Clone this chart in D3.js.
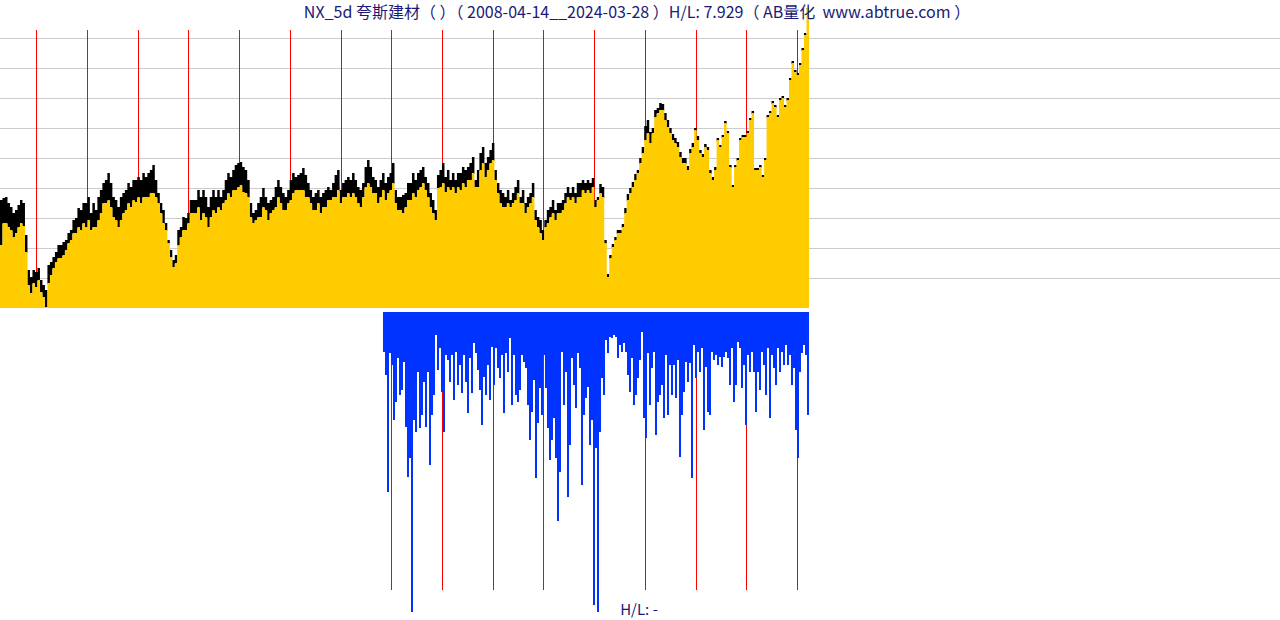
<!DOCTYPE html>
<html><head><meta charset="utf-8">
<script src="https://cdn.jsdelivr.net/npm/d3@7"></script>
<style>html,body{margin:0;padding:0;background:#fff;overflow:hidden}</style>
</head><body>
<script>
// ---- data ----
const titleText = "NX_5d 夸斯建材（ ）（ 2008-04-14__2024-03-28 ）H/L: 7.929（ AB量化  www.abtrue.com ）";
const footText = "H/L: -";
const startDate = "2008-04-14";
const endDate = "2024-03-28";
const bottomStartDate = "2015-11-03";
const gridTicks = [3, 6, 9, 12, 15, 18, 21, 24, 27];

const close = [
6.3,8.5, 8.5,8.1, 7.8,7.1, 7.5,8.1, 8.5,8.2, 5.6,2.3, 1.5,2.5, 2.1,2.8, 1.6,1.1, 0.1,2.5,
3.3,4.0, 4.6,5.0, 5.0,5.3, 5.8,6.5, 6.8,7.5, 7.5,8.1, 7.8,8.5, 8.1,8.8, 7.8,8.1, 8.1,8.8,
9.5,10.5, 10.5,10.8, 10.1,9.1, 8.8,8.1, 8.8,9.5, 9.8,10.5, 10.1,10.8, 10.6,11.1, 10.5,11.1, 11.1,11.1,
11.5,11.5, 11.1,10.5, 9.5,8.5, 7.8,6.5, 5.1,4.1, 4.5,6.3, 7.1,7.8, 7.8,8.5, 9.5,9.5, 9.5,10.1,
8.8,9.5, 9.1,8.1, 9.1,9.8, 9.5,10.1, 9.8,10.5, 10.8,11.5, 11.1,11.8, 11.8,12.1, 12.3,11.6, 11.5,11.1,
9.1,8.5, 8.8,9.1, 9.1,10.1, 9.8,8.8, 9.5,9.8, 10.1,11.1, 10.5,9.8, 9.8,10.5, 10.8,11.5, 11.8,11.8,
11.8,11.8, 11.1,11.1, 10.5,9.8, 9.8,10.5, 9.5,10.1, 10.1,10.8, 10.8,11.1, 11.1,11.8, 10.5,11.1, 11.1,11.5,
11.1,11.5, 11.1,10.5, 10.1,11.1, 12.1,12.5, 12.1,11.5, 11.5,10.5, 11.1,11.8, 10.8,11.5, 11.8,12.5, 10.5,9.8,
9.8,9.5, 10.1,10.8, 10.8,11.5, 11.1,11.8, 12.1,12.5, 11.8,11.1, 10.1,9.5, 8.8,12.0, 12.1,12.5, 11.6,12.1,
11.8,12.1, 11.5,12.1, 11.8,12.5, 12.1,12.8, 12.8,13.5, 12.1,12.1, 13.8,14.5, 13.1,13.8, 14.5,14.8, 12.8,11.5,
10.5,10.1, 10.1,10.5, 10.1,10.5, 10.8,11.5, 10.5,10.5, 9.5,10.1, 10.5,11.1, 8.8,8.1, 7.5,6.8, 8.1,8.5,
9.1,9.5, 8.8,9.5, 9.5,9.8, 10.5,11.1, 10.8,11.1, 10.5,11.1, 11.1,11.8, 11.5,11.8, 11.5,12.1, 10.1,10.8,
11.5,11.1, 6.5,3.1, 5.0,6.1, 6.8,7.5, 7.5,8.1, 9.5,10.8, 11.5,12.1, 12.8,13.5, 14.5,15.5, 16.8,17.5,
16.5,17.5, 19.1,19.5, 19.8,19.8, 18.8,18.1, 17.5,16.8, 16.5,16.1, 15.1,14.5, 14.5,13.8, 15.5,16.1, 17.8,16.8,
15.5,15.1, 16.1,15.8, 13.5,12.8, 13.8,16.8, 16.1,17.1, 18.5,17.5, 14.1,12.1, 14.1,14.8, 16.8,17.1, 17.1,17.5,
18.8,19.5, 13.8,13.8, 14.1,13.1, 14.8,19.1, 19.5,20.5, 20.1,19.1, 20.8,21.0, 20.1,20.8, 22.8,24.5, 23.6,23.3,
24.3,25.8, 27.3,30.0
];

const high = [
10.8,11.0, 11.1,10.5, 10.1,9.5, 9.8,10.3, 10.8,10.5, 7.3,3.8, 3.1,3.8, 3.6,4.0, 2.8,2.3, 1.8,4.3,
4.6,5.1, 5.6,6.3, 6.3,6.6, 6.8,7.5, 7.8,8.8, 9.0,10.0, 9.8,10.5, 10.5,11.1, 9.5,10.5, 9.8,11.1,
11.8,12.5, 12.8,13.5, 12.5,11.1, 10.8,10.1, 11.1,11.5, 11.8,12.5, 12.1,12.8, 12.8,13.1, 12.8,13.5, 13.1,13.5,
13.8,14.3, 12.8,11.5, 10.5,9.8, 8.5,6.8, 5.8,4.8, 5.3,7.8, 8.1,9.1, 9.0,9.5, 10.8,10.8, 10.8,11.8,
11.1,11.8, 11.1,10.1, 11.1,11.8, 11.1,11.8, 11.1,11.8, 12.8,13.5, 13.1,13.8, 14.3,14.5, 14.6,14.1, 13.8,12.8,
10.5,9.5, 9.8,10.5, 11.1,12.0, 11.1,10.5, 10.8,11.1, 12.1,12.8, 12.1,11.5, 11.1,11.8, 12.8,13.5, 13.1,13.3,
13.5,14.0, 13.3,12.5, 11.8,11.1, 11.5,11.8, 11.1,11.5, 11.8,12.1, 11.8,12.5, 13.3,13.8, 11.8,12.5, 12.8,13.1,
12.8,13.5, 12.8,12.1, 11.8,12.5, 14.1,14.8, 14.1,13.1, 12.8,12.1, 12.8,13.5, 12.5,13.1, 13.5,14.5, 11.8,11.1,
11.1,11.3, 11.5,12.5, 12.5,13.5, 12.8,13.5, 13.8,14.1, 13.1,12.5, 11.5,10.8, 9.8,13.3, 13.8,14.5, 13.1,13.8,
12.8,13.5, 12.8,13.5, 13.5,14.1, 13.8,14.1, 14.5,15.1, 12.8,13.8, 15.5,16.1, 14.5,15.1, 15.8,16.5, 13.8,12.5,
11.8,11.5, 11.1,11.8, 10.8,11.5, 12.1,12.8, 11.1,11.8, 10.5,11.1, 11.5,12.5, 9.8,9.1, 8.8,7.8, 8.8,9.8,
10.1,10.8, 9.8,10.5, 10.5,10.8, 11.5,12.1, 11.5,12.1, 11.5,12.5, 12.5,12.8, 12.5,12.8, 12.5,13.0, 10.8,11.1,
12.4,12.1, 6.8,3.4, 5.3,6.4, 7.1,7.8, 7.8,8.4, 10.0,11.4, 12.0,12.6, 13.4,13.8, 15.0,16.1, 18.2,18.8,
17.6,18.0, 19.8,20.0, 20.5,20.4, 19.5,18.8, 18.0,17.4, 17.0,16.6, 15.6,15.0, 15.0,14.2, 15.9,16.5, 18.0,17.2,
15.8,15.4, 16.4,16.1, 13.8,13.1, 14.1,17.0, 16.3,17.3, 18.7,17.7, 14.3,12.3, 14.3,15.0, 17.0,17.3, 17.3,17.7,
19.0,19.7, 14.0,14.0, 14.3,13.3, 15.0,19.3, 19.7,20.7, 20.3,19.3, 21.0,21.2, 20.3,21.0, 23.0,24.7, 23.8,23.5,
24.5,26.0, 27.5,30.0
];

const depth = [
4.0,6.3,18.0,4.1,5.3,10.8,9.0,4.6,8.3,7.8,5.0,11.5,16.5,14.6,30.0,10.8,12.0,6.0,11.6,10.3,
7.0,11.5,6.0,15.3,10.3,8.3,2.3,5.8,3.6,8.0,12.0,4.3,4.8,7.0,4.3,8.8,4.0,7.3,5.3,8.1,
4.3,7.0,10.1,4.6,8.1,3.1,4.1,5.8,7.8,11.3,6.5,8.3,5.3,8.8,3.5,7.3,3.6,5.6,6.6,4.3,
10.1,4.1,6.0,2.6,9.3,4.3,8.3,9.0,7.8,4.3,5.0,5.6,9.3,12.8,10.0,6.8,16.6,11.1,7.6,10.3,
4.3,7.6,11.6,14.8,12.8,10.6,14.6,20.9,16.0,4.0,9.3,6.0,18.5,13.3,4.6,7.3,9.6,4.1,5.6,17.3,
10.3,8.6,7.5,13.3,10.8,29.3,13.6,30.0,12.0,6.6,8.3,2.8,4.1,2.5,2.6,2.3,2.5,4.6,3.3,4.0,
3.1,4.0,6.3,8.0,4.6,9.3,8.3,6.6,4.8,2.0,10.6,12.6,4.1,9.3,5.6,4.0,12.3,9.0,8.3,7.3,
10.6,4.3,10.3,5.3,8.3,5.3,8.6,4.8,14.5,10.3,8.0,5.0,7.0,5.1,16.6,3.3,6.6,4.0,6.0,3.6,
11.8,5.5,10.0,10.3,4.0,4.8,4.3,5.3,4.5,5.5,4.5,4.0,4.6,7.3,3.6,9.0,7.3,3.0,3.6,7.6,
5.3,11.3,4.3,6.0,4.0,6.0,10.0,6.0,7.8,4.0,5.3,8.3,3.6,10.6,4.3,5.6,7.3,3.6,6.0,4.0,
5.3,3.3,5.3,4.3,7.3,5.6,11.8,14.6,6.0,4.1,3.3,4.3,10.3
];

// ---- drawing ----
const W = 1280, H = 620;
const svg = d3.select("body").append("svg").attr("width", W).attr("height", H)
  .style("font-family", "'Noto Sans CJK SC','Noto Sans',sans-serif");

const t0 = new Date(startDate + "T00:00:00Z"), t1 = new Date(endDate + "T00:00:00Z");
const tb = new Date(bottomStartDate + "T00:00:00Z");
const x = d3.scaleUtc().domain([t0, t1]).range([0, 809]);
const yTop = d3.scaleLinear().domain([0, 30]).range([308, 8]);
const yBot = d3.scaleLinear().domain([0, 30]).range([312, 612]);

// grid lines
svg.append("g").selectAll("line").data(gridTicks).join("line")
  .attr("x1", 0).attr("x2", W)
  .attr("y1", d => Math.round(yTop(d)) + 0.5).attr("y2", d => Math.round(yTop(d)) + 0.5)
  .attr("stroke", "#cccccc").attr("stroke-width", 1);

const years = d3.utcYear.range(d3.utcYear.ceil(t0), t1);

// year lines top (behind area)
svg.append("g").selectAll("line").data(years).join("line")
  .attr("x1", d => Math.round(x(d)) + 0.5).attr("x2", d => Math.round(x(d)) + 0.5)
  .attr("y1", 30).attr("y2", 308)
  .attr("stroke", "#ff0000").attr("stroke-width", 1);

// top series
const n = close.length;
const pts = close.map((c, i) => ({ t: new Date(+t0 + (t1 - t0) * i / n), c, h: high[i] }));
pts.push({ t: t1, c: close[n - 1], h: high[n - 1] });

svg.append("path").datum(pts)
  .attr("d", d3.area().curve(d3.curveStepAfter).x(d => x(d.t)).y0(d => yTop(d.c) + 1).y1(d => yTop(Math.max(d.h, d.c))))
  .attr("fill", "#000000");
svg.append("path").datum(pts)
  .attr("d", d3.area().curve(d3.curveStepAfter).x(d => x(d.t)).y0(yTop(0)).y1(d => yTop(d.c)))
  .attr("fill", "#ffcc00");

// bottom panel
const bYears = years.filter(d => d > tb);
svg.append("g").selectAll("line").data(bYears).join("line")
  .attr("x1", d => Math.round(x(d)) + 0.5).attr("x2", d => Math.round(x(d)) + 0.5)
  .attr("y1", 312).attr("y2", 590)
  .attr("stroke", "#ff0000").attr("stroke-width", 1);

const m = depth.length;
const bars = depth.map((v, i) => ({
  a: new Date(+tb + (t1 - tb) * i / m),
  b: new Date(+tb + (t1 - tb) * (i + 1) / m), v }));
svg.append("g").selectAll("rect").data(bars).join("rect")
  .attr("x", d => x(d.a))
  .attr("width", d => x(d.b) - x(d.a) + 0.3)
  .attr("y", yBot(0))
  .attr("height", d => yBot(d.v) - yBot(0))
  .attr("fill", "#0033ff")
  .attr("shape-rendering", "crispEdges");

// texts
svg.append("text").attr("x", 637).attr("y", 18).attr("text-anchor", "middle")
  .style("white-space", "pre")
  .attr("font-size", 16).attr("fill", "#1a1a78").text(titleText);
svg.append("text").attr("x", 639).attr("y", 615).attr("text-anchor", "middle")
  .style("white-space", "pre")
  .attr("font-size", 15).attr("fill", "#1a1a78").text(footText);
</script>
</body></html>
